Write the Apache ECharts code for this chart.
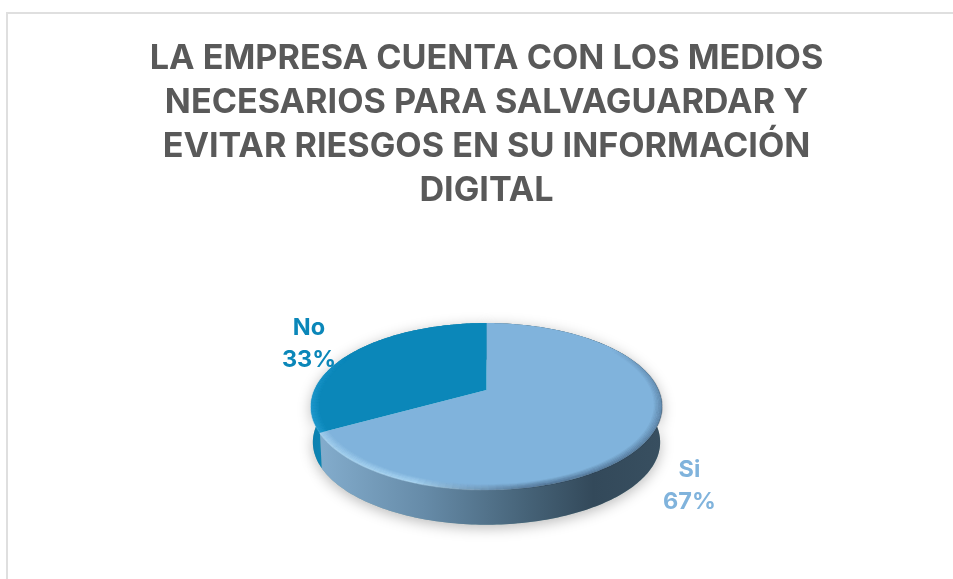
<!DOCTYPE html>
<html><head><meta charset="utf-8">
<style>html,body{margin:0;padding:0;background:#fff}#c{width:953px;height:579px}</style>
<script src="https://cdn.jsdelivr.net/npm/echarts@6/dist/echarts.min.js"></script>
</head><body><div id="c"></div>
<script>
const titleLines = ['LA EMPRESA CUENTA CON LOS MEDIOS','NECESARIOS PARA SALVAGUARDAR Y','EVITAR RIESGOS EN SU INFORMACIÓN','DIGITAL'];
const categories = ['Si','No'];
const values = [67,33];
const topColors = ['#80b3dc','#0b87b9'];
const labelColors = ['#80b3dc','#0b87b9'];
const labelPos = [[689.5,486],[309,344]];

const total = values.reduce((a,b)=>a+b,0);
const CX=486.5, CY=390, R=172, A=80.2, B=0.1976, DEPTH=36;
function rim(t,s){ s=s===undefined?1:s; const u=s*Math.sin(t), v=-s*Math.cos(t), w=1-B*v; return [CX+R*u/w, CY+A*v/w]; }
function low(t){ const p=rim(t,0.99); return [p[0],p[1]+DEPTH]; }
function range(i){ let s=0; for(let k=0;k<i;k++) s+=values[k]; return [s/total*2*Math.PI,(s+values[i])/total*2*Math.PI]; }
function samples(a,b,step){ const out=[]; const n=Math.ceil((b-a)/step); for(let i=0;i<=n;i++) out.push(a+(b-a)*i/n); return out; }
function wallPts(i){ const [a,b]=range(i); const ts=samples(a,b,0.02); return ts.map(t=>rim(t)).concat(ts.slice().reverse().map(low)); }
const wallFill=[
 {type:'linear',x:323,y:0,x2:661,y2:0,global:true,colorStops:[{offset:0,color:'#82abcb'},{offset:.3,color:'#668ba8'},{offset:.6,color:'#466378'},{offset:.8,color:'#33495a'},{offset:1,color:'#384f60'}]},
 {type:'linear',x:311,y:0,x2:325,y2:0,global:true,colorStops:[{offset:0,color:'#0c7fae'},{offset:1,color:'#0a86b6'}]}
];
function mix(a,b,x){ return a+(b-a)*x; }
function clamp(x){ return Math.max(0,Math.min(1,x)); }
function bevelColor(i,t,k){
  const d=t*180/Math.PI, fall=1-k/6;
  if(i===1){ const e=clamp((300-d)/45); return `rgba(50,170,225,${(0.5*e*fall).toFixed(3)})`; }
  const inn=clamp((d-55)/50), lightT=clamp((d-165)/35);
  const r=mix(40,180,lightT), g=mix(60,222,lightT), bl=mix(85,248,lightT);
  const al=mix(0.38,0.6,lightT)*inn*fall;
  return `rgba(${r|0},${g|0},${bl|0},${al.toFixed(3)})`;
}

function renderShadow(params){
  const i=params.dataIndex;
  return {type:'polygon',shape:{points:wallPts(i)},style:{fill:'#8aa',shadowBlur:14,shadowColor:'rgba(0,0,0,0.28)',shadowOffsetY:3}};
}
function renderWall(params,api){
  const i=api.value(2);
  return {type:'polygon',shape:{points:wallPts(i)},style:{fill:wallFill[i]}};
}
function renderTop(params,api){
  const i=api.value(2);
  const [a,b]=range(i);
  const pts=[[CX,CY]].concat(samples(a,b,0.01).map(t=>rim(t)));
  const children=[{type:'polygon',shape:{points:pts},style:{fill:topColors[i]}}];
  const ts=samples(a,b,0.035);
  for(let k=0;k<6;k++){
    for(let j=0;j<ts.length-1;j++){
      children.push({type:'line',silent:true,shape:{x1:rim(ts[j],1-.008*k)[0],y1:rim(ts[j],1-.008*k)[1],x2:rim(ts[j+1],1-.008*k)[0],y2:rim(ts[j+1],1-.008*k)[1]},style:{stroke:bevelColor(i,(ts[j]+ts[j+1])/2,k),lineWidth:1.6,lineCap:'butt'}});
    }
  }
  return {type:'group',children};
}
function renderLabel(params,api){
  const i=api.value(2);
  return {type:'text',x:labelPos[i][0],y:labelPos[i][1],style:{text:categories[i]+'\n'+values[i]+'%',fill:labelColors[i],font:'bold 23.5px Inter',lineHeight:32,align:'center',verticalAlign:'middle',textAlign:'center',textVerticalAlign:'middle'}};
}
const rows=categories.map((c,i)=>[c,values[i],i]);
const chart=echarts.init(document.getElementById('c'),null,{renderer:'canvas'});
chart.setOption({
  animation:false,backgroundColor:'#fff',
  title:{text:titleLines.join('\n'),left:481.5,top:32,textAlign:'center',textStyle:{fontFamily:'Inter',fontWeight:'bold',fontSize:34.2,lineHeight:44,color:'#595959'}},
  graphic:[{type:'rect',silent:true,shape:{x:7,y:13,width:1000,height:1000},style:{fill:'none',stroke:'#dfdfdf',lineWidth:2}}],
  series:[
   {type:'custom',name:'sombra',coordinateSystem:'none',silent:true,z:1,data:rows,renderItem:renderShadow},
   {type:'custom',name:'pared',coordinateSystem:'none',silent:true,z:2,data:rows,renderItem:renderWall},
   {type:'custom',name:'cara',coordinateSystem:'none',silent:true,z:3,data:rows,renderItem:renderTop},
   {type:'custom',name:'etiquetas',coordinateSystem:'none',silent:true,z:4,data:rows,renderItem:renderLabel}
  ]
});
</script></body></html>
